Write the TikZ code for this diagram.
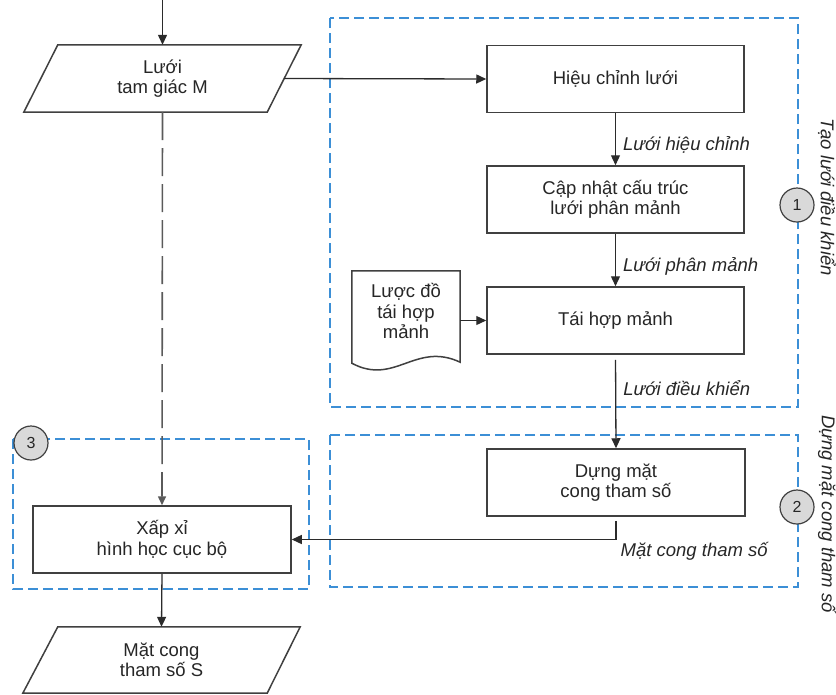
\documentclass[tikz,border=0pt]{standalone}
\usepackage{fontspec}
\setmainfont{Liberation Sans}
\usetikzlibrary{arrows.meta,calc}
\definecolor{boxc}{HTML}{404040}
\definecolor{linec}{HTML}{2B2B2B}
\definecolor{bluec}{HTML}{3C8FD6}
\definecolor{circf}{HTML}{D9D9D9}
\definecolor{txtc}{HTML}{262626}
\definecolor{dashc}{HTML}{5A5A5A}
\begin{document}
\begin{tikzpicture}[x=1pt,y=-1pt,
 font=\fontsize{18.5}{20.5}\selectfont, text=txtc,
 proc/.style={draw=boxc, line width=1.5pt, fill=white, minimum width=257pt, minimum height=67pt, align=center, inner sep=0pt},
 io/.style={minimum width=277pt, minimum height=67pt, align=center, inner sep=0pt},
 outline/.style={draw=boxc, line width=1.5pt, fill=white, line join=miter},
 arr/.style={draw=linec, line width=1.3pt, -{Triangle[length=10pt,width=9pt]}},
 dline/.style={draw=dashc, line width=1.6pt, dash pattern=on 28pt off 8pt, -{Triangle[length=9pt,width=8pt]}},
 lbl/.style={font=\fontsize{18.5}{20.5}\selectfont\itshape, anchor=west, xshift=6pt, inner sep=1pt},
 grp/.style={draw=bluec, line width=1.4pt, dash pattern=on 10pt off 5pt},
 num/.style={circle, draw=boxc, line width=1.2pt, fill=circf, minimum size=34pt, inner sep=0pt, font=\fontsize{16}{16}\selectfont},
 side/.style={font=\fontsize{18.5}{20.5}\selectfont\itshape, rotate=-90, inner sep=0pt}
]
\useasboundingbox (0,0) rectangle (836,694);
% groups
\draw[grp] (330,18) rectangle (798,407);
\draw[grp] (330,435) rectangle (798,587);
\draw[grp] (13,439) rectangle (309,589);
% parallelogram M
\node[io] (M) at (162.5,78.5) {};
\draw[outline] ($(M.north west)+(34,0)$) -- (M.north east) -- ($(M.south east)+(-34,0)$) -- (M.south west) -- cycle;
\node[align=center] (Mt) at (M.center) {Lưới\\tam giác M};
% parallelogram S
\node[io, minimum height=66pt] (S) at (161.5,660) {};
\draw[outline] ($(S.north west)+(35,0)$) -- (S.north east) -- ($(S.south east)+(-33,0)$) -- (S.south west) -- cycle;
\node[align=center] (St) at (S.center) {Mặt cong\\tham số S};
% process boxes
\node[proc] (h) at (615.5,79) {Hiệu chỉnh lưới};
\node[proc] (c) at (615.5,199.5) {Cập nhật cấu trúc\\lưới phân mảnh};
\node[proc] (t) at (615.5,320.5) {Tái hợp mảnh};
\node[proc, minimum width=258pt] (d) at (616,482.5) {Dựng mặt\\cong tham số};
\node[proc, minimum width=258pt] (x) at (162,539.5) {Xấp xỉ\\hình học cục bộ};
% document
\node[minimum width=108pt, minimum height=80pt, inner sep=0pt] (doc) at (406,311) {};
\draw[outline] (doc.north west) -- (doc.north east) -- ($(doc.south east)+(0,11)$)
  .. controls ($(doc.south east)+(-45,-10)$) and ($(doc.south west)+(43,35)$) .. ($(doc.south west)+(0,12)$) -- cycle;
\node[align=center] (doct) at (doc.center) {Lược đồ\\tái hợp\\mảnh};
% circles
\node[num] (n1) at (797,205) {1};
\node[num] (n2) at (797,507) {2};
\node[num] (n3) at (31,443) {3};
% side labels
\node[side] (s1) at (827,197) {Tạo lưới điều khiển};
\node[side] (s2) at (827,514) {Dựng mặt cong tham số};
% connectors
\coordinate (in) at (162.5,0);
\draw[arr] (in) -- (M.north);
\draw[arr] ([xshift=-17pt]M.east) -- (h.west);
\draw[arr] (h.south) -- node[lbl, pos=0.6] {Lưới hiệu chỉnh} (c.north);
\draw[arr] (c.south) -- node[lbl, pos=0.63] {Lưới phân mảnh} (t.north);
\draw[arr] (doc.east |- t.west) -- (t.west);
\draw[arr, shorten <=5pt] (t.south) -- node[lbl, pos=0.36] {Lưới điều khiển} (d.north);
\draw[arr, shorten <=4pt] (d.south) |- node[pos=0.5, anchor=north west, font=\fontsize{18.5}{20.5}\selectfont\itshape, inner sep=1pt, xshift=3pt, yshift=-1pt] {Mặt cong tham số} (x.east);
\draw[dline] (M.south) -- (x.north);
\draw[arr] (x.south) -- (S.north);
\end{tikzpicture}
\end{document}
